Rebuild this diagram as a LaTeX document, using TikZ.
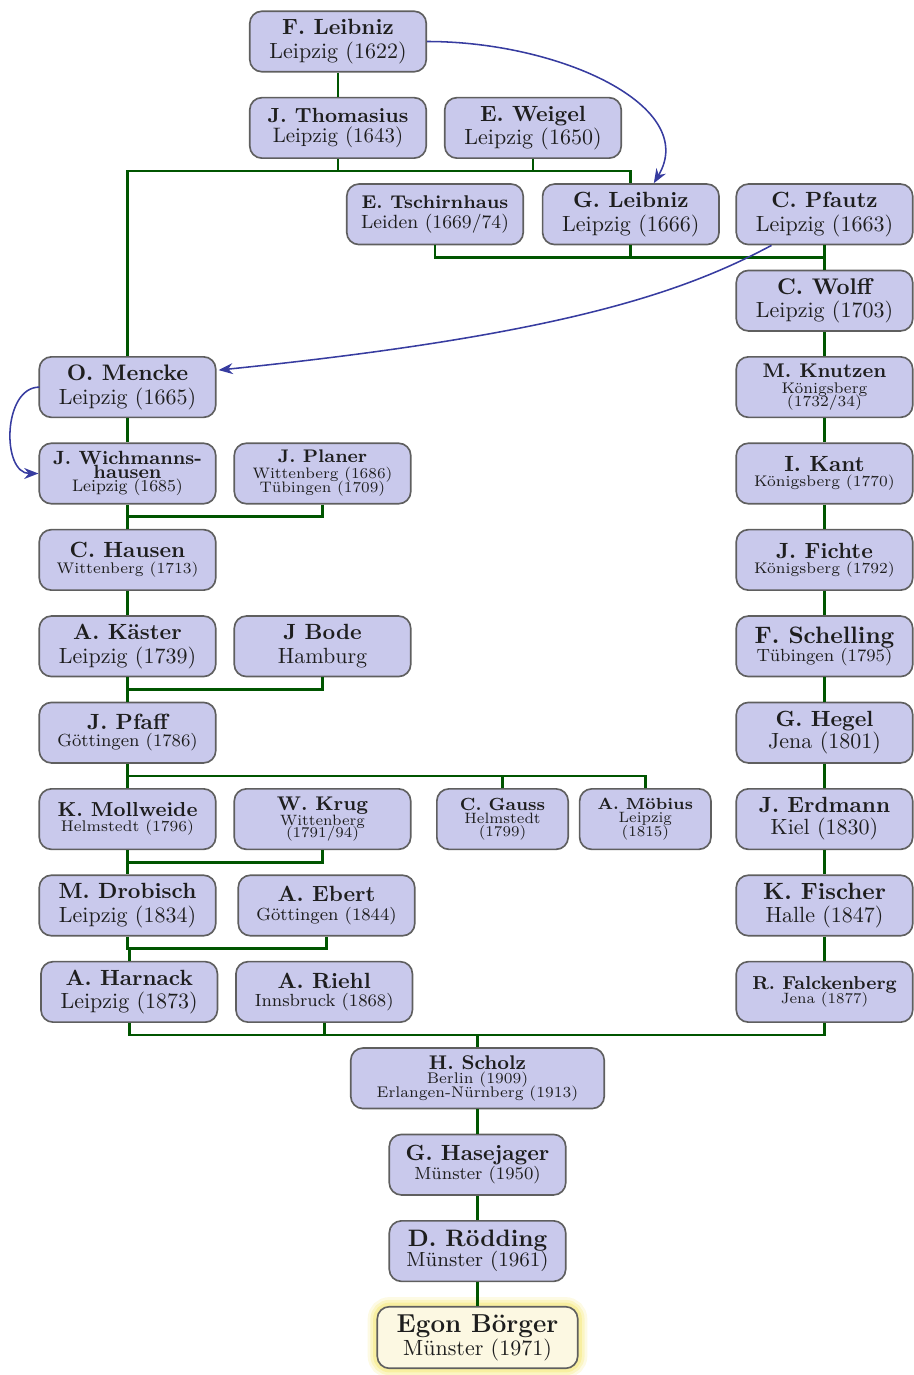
\documentclass[tikz,border=0pt]{standalone}
\usetikzlibrary{calc,arrows.meta,backgrounds}
\definecolor{boxfill}{RGB}{201,201,236}
\definecolor{boxdraw}{RGB}{95,95,95}
\definecolor{edgegreen}{RGB}{0,85,0}
\definecolor{arrowblue}{RGB}{55,60,160}
\definecolor{egfill}{RGB}{252,248,226}
\definecolor{glowc}{RGB}{245,232,120}
\definecolor{txt}{RGB}{30,30,30}
\newcommand\nm[2]{{\fontsize{#1}{#1}\selectfont\bfseries #2}}
\newcommand\pl[2]{{\fontsize{#1}{#1}\selectfont #2}}
\tikzset{
 pbox/.style={draw=boxdraw, fill=boxfill, line width=0.75pt, rounded corners=5.5pt,
   minimum width=80.2pt, minimum height=27.5pt, inner sep=0pt, align=center, text=txt,
   font={\fontsize{10}{0pt}\selectfont\lineskiplimit=-100pt\lineskip=0pt}},
 nbox/.style={pbox, minimum width=59.7pt},
 edge/.style={draw=edgegreen, line width=1.2pt},
 link/.style={draw=arrowblue, line width=0.7pt, -{Stealth[length=6.5pt,width=5pt]}},
}
\begin{document}
\begin{tikzpicture}[x=0.4545pt,y=-0.4545pt]
\useasboundingbox (0,0) rectangle (913,1375);
% row 0
\node[pbox] (fl) at (338,41.5) {\nm{10}{F. Leibniz}\\[10.6pt]\pl{10}{Leipzig (1622)}};
% row 1
\node[pbox] (th) at (338,127.9) {\nm{9.3}{J. Thomasius}\\[9.3pt]\pl{9.5}{Leipzig (1643)}};
\node[pbox] (we) at (533,127.9) {\nm{10}{E. Weigel}\\[10.4pt]\pl{10}{Leipzig (1650)}};
% row 2
\node[pbox] (ts) at (435,214.3) {\nm{8.4}{E. Tschirnhaus}\\[8.8pt]\pl{8.7}{Leiden (1669/74)}};
\node[pbox] (gl) at (630.8,214.3) {\nm{10}{G. Leibniz}\\[10.8pt]\pl{10}{Leipzig (1666)}};
\node[pbox] (pf) at (824.5,214.3) {\nm{10}{C. Pfautz}\\[10.8pt]\pl{10}{Leipzig (1663)}};
% row 3
\node[pbox] (wo) at (824.5,300.7) {\nm{10.3}{C. Wolff}\\[10.8pt]\pl{10}{Leipzig (1703)}};
% row 4
\node[pbox] (me) at (127.5,387.1) {\nm{10.2}{O. Mencke}\\[10.8pt]\pl{10}{Leipzig (1665)}};
\node[pbox] (kn) at (824.5,387.1) {\nm{9}{M. Knutzen}\\[7.3pt]\pl{7}{Königsberg}\\[6.1pt]\pl{7}{(1732/34)}};
% row 5
\node[pbox] (wi) at (127.5,473.5) {\nm{8.7}{J. Wichmanns-}\\[6.2pt]\nm{8.7}{hausen}\\[6.1pt]\pl{7.6}{Leipzig (1685)}};
\node[pbox] (pl) at (322.5,473.5) {\nm{8.3}{J. Planer}\\[7.1pt]\pl{6.9}{Wittenberg (1686)}\\[6.5pt]\pl{6.9}{Tübingen (1709)}};
\node[pbox] (ka) at (824.5,473.5) {\nm{10}{I. Kant}\\[6.8pt]\pl{7}{Königsberg (1770)}};
% row 6
\node[pbox] (ha) at (127.5,559.9) {\nm{10}{C. Hausen}\\[7.1pt]\pl{7}{Wittenberg (1713)}};
\node[pbox] (fi) at (824.5,559.9) {\nm{10}{J. Fichte}\\[6.8pt]\pl{7}{Königsberg (1792)}};
% row 7
\node[pbox] (kae) at (127.5,646.3) {\nm{10}{A. Käster}\\[11pt]\pl{10}{Leipzig (1739)}};
\node[pbox] (bo) at (322.5,646.3) {\nm{10}{J Bode}\\[11pt]\pl{10}{Hamburg}};
\node[pbox] (sc) at (824.5,646.3) {\nm{10.8}{F. Schelling}\\[7.9pt]\pl{8}{Tübingen (1795)}};
% row 8
\node[pbox] (pfa) at (127.5,732.7) {\nm{10}{J. Pfaff}\\[7.9pt]\pl{8}{Göttingen (1786)}};
\node[pbox] (he) at (824.5,732.7) {\nm{10}{G. Hegel}\\[10pt]\pl{10}{Jena (1801)}};
% row 9
\node[pbox] (mo) at (127.5,819.1) {\nm{9.2}{K. Mollweide}\\[6.8pt]\pl{7}{Helmstedt (1796)}};
\node[pbox] (kr) at (322.5,819.1) {\nm{9}{W. Krug}\\[6.8pt]\pl{6.8}{Wittenberg}\\[5.5pt]\pl{6.8}{(1791/94)}};
\node[nbox] (ga) at (502.5,819.1) {\nm{8}{C. Gauss}\\[6pt]\pl{6.8}{Helmstedt}\\[6pt]\pl{6.8}{(1799)}};
\node[nbox] (mb) at (645.3,819.1) {\nm{7.3}{A. Möbius}\\[6pt]\pl{6.8}{Leipzig}\\[6pt]\pl{6.8}{(1815)}};
\node[pbox] (er) at (824.5,819.1) {\nm{10}{J. Erdmann}\\[10pt]\pl{10}{Kiel (1830)}};
% row 10
\node[pbox] (dr) at (127.5,905.5) {\nm{10}{M. Drobisch}\\[10.8pt]\pl{10}{Leipzig (1834)}};
\node[pbox] (eb) at (326.5,905.5) {\nm{10}{A. Ebert}\\[9pt]\pl{8}{Göttingen (1844)}};
\node[pbox] (fis) at (824.5,905.5) {\nm{10.7}{K. Fischer}\\[10.6pt]\pl{10}{Halle (1847)}};
% row 11
\node[pbox] (hn) at (129.2,991.9) {\nm{10}{A. Harnack}\\[10.6pt]\pl{10}{Leipzig (1873)}};
\node[pbox] (ri) at (324.2,991.9) {\nm{10}{A. Riehl}\\[8.3pt]\pl{8}{Innsbruck (1868)}};
\node[pbox] (fa) at (824.5,991.9) {\nm{8.5}{R. Falckenberg}\\[6.1pt]\pl{6.8}{Jena (1877)}};
% row 12-15
\node[pbox, minimum width=115.2pt] (sch) at (477.5,1078.3) {\nm{9}{H. Scholz}\\[6.5pt]\pl{7}{Berlin (1909)}\\[6.5pt]\pl{7}{Erlangen-Nürnberg (1913)}};
\node[pbox] (hj) at (477.5,1164.7) {\nm{10}{G. Hasejager}\\[8.6pt]\pl{8}{Münster (1950)}};
\node[pbox] (ro) at (477.5,1251.1) {\nm{10.8}{D. Rödding}\\[9.1pt]\pl{9.3}{Münster (1961)}};
\node[pbox, fill=egfill, minimum width=91.1pt, minimum height=28pt] (eg) at (477.5,1337.5) {\nm{11.8}{Egon Börger}\\[10.6pt]\pl{10}{Münster (1971)}};
\begin{pgfonlayer}{background}
\foreach \w/\o in {8pt/0.2,5.5pt/0.3,3pt/0.45}{
  \draw[glowc, line width=\w, opacity=\o, rounded corners=6pt] (eg.south west) rectangle (eg.north east);
}
\end{pgfonlayer}
% family bars
\coordinate (b1) at (0,171.1);
\coordinate (b2) at (0,257.5);
\coordinate (b5) at (0,516.7);
\coordinate (b7) at (0,689.5);
\coordinate (b8) at (0,775.9);
\coordinate (b9) at (0,862.3);
\coordinate (b10) at (0,948.7);
\coordinate (b11) at (0,1035.1);
\draw[edge] (fl.south) -- (th.north);
\draw[edge] (me.north) -- (me.north |- b1) -- (gl.north |- b1) -- (gl.north);
\draw[edge] (th.south) -- (th.south |- b1);
\draw[edge] (we.south) -- (we.south |- b1);
\draw[edge] (ts.south) -- (ts.south |- b2) -- (pf.south |- b2);
\draw[edge] (gl.south) -- (gl.south |- b2);
\draw[edge] (pf.south) -- (wo.north);
\draw[edge] (wo.south) -- (kn.north);
\draw[edge] (kn.south) -- (ka.north);
\draw[edge] (ka.south) -- (fi.north);
\draw[edge] (fi.south) -- (sc.north);
\draw[edge] (sc.south) -- (he.north);
\draw[edge] (he.south) -- (er.north);
\draw[edge] (er.south) -- (fis.north);
\draw[edge] (fis.south) -- (fa.north);
\draw[edge] (me.south) -- (wi.north);
\draw[edge] (wi.south) -- (ha.north);
\draw[edge] (pl.south) -- (pl.south |- b5) -- (wi.south |- b5);
\draw[edge] (ha.south) -- (kae.north);
\draw[edge] (kae.south) -- (pfa.north);
\draw[edge] (bo.south) -- (bo.south |- b7) -- (kae.south |- b7);
\draw[edge] (pfa.south) -- (mo.north);
\draw[edge] (pfa.south |- b8) -- (mb.north |- b8) -- (mb.north);
\draw[edge] (ga.north) -- (ga.north |- b8);
\draw[edge] (mo.south) -- (dr.north);
\draw[edge] (kr.south) -- (kr.south |- b9) -- (mo.south |- b9);
\draw[edge] (dr.south) -- (dr.south |- b10) -- (eb.south |- b10) -- (eb.south);
\draw[edge] (hn.north) -- (hn.north |- b10);
\draw[edge] (hn.south) -- (hn.south |- b11) -- (fa.south |- b11) -- (fa.south);
\draw[edge] (ri.south) -- (ri.south |- b11);
\draw[edge] (sch.north) -- (sch.north |- b11);
\draw[edge] (sch.south) -- (hj.north);
\draw[edge] (hj.south) -- (ro.north);
\draw[edge] (ro.south) -- (eg.north);
% blue links
\draw[link] (fl.east) .. controls +(133,0) and +(46,-77) .. ($(gl.north)+(23,0)$);
\draw[link] ($(pf.south)+(-53,0)$) .. controls +(-90,48) and +(341,-35) .. ($(me.east)+(2,-17)$);
\draw[link] ($(me.west)+(1,0)$) .. controls +(-37,0) and +(-37,0) .. (wi.west);
\end{tikzpicture}
\end{document}
